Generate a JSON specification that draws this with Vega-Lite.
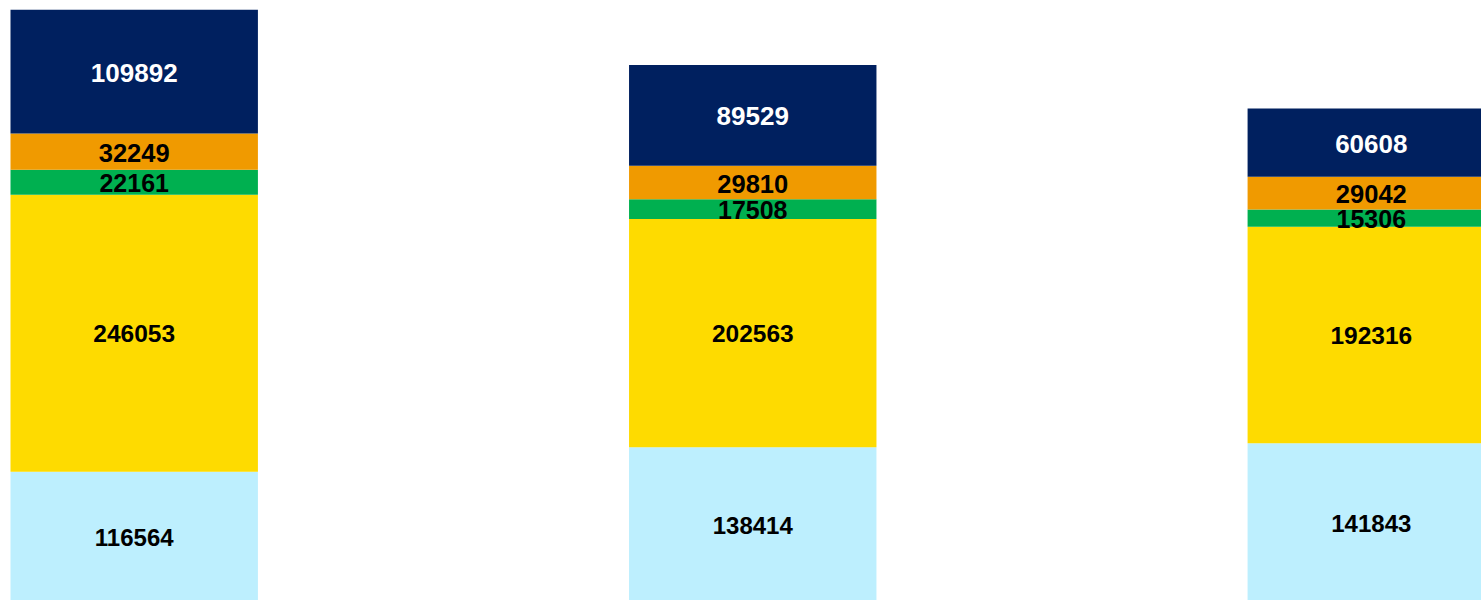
{
  "$schema": "https://vega.github.io/schema/vega-lite/v6.json",
  "width": 1481,
  "height": 600,
  "padding": 0,
  "autosize": {"type": "none"},
  "background": "white",
  "config": {"view": {"stroke": null}},
  "data": {
    "values": [
      {"group": "1", "segment": "E", "pos": 1, "value": 116564},
      {"group": "1", "segment": "D", "pos": 2, "value": 246053},
      {"group": "1", "segment": "C", "pos": 3, "value": 22161},
      {"group": "1", "segment": "B", "pos": 4, "value": 32249},
      {"group": "1", "segment": "A", "pos": 5, "value": 109892},
      {"group": "2", "segment": "E", "pos": 1, "value": 138414},
      {"group": "2", "segment": "D", "pos": 2, "value": 202563},
      {"group": "2", "segment": "C", "pos": 3, "value": 17508},
      {"group": "2", "segment": "B", "pos": 4, "value": 29810},
      {"group": "2", "segment": "A", "pos": 5, "value": 89529},
      {"group": "3", "segment": "E", "pos": 1, "value": 141843},
      {"group": "3", "segment": "D", "pos": 2, "value": 192316},
      {"group": "3", "segment": "C", "pos": 3, "value": 15306},
      {"group": "3", "segment": "B", "pos": 4, "value": 29042},
      {"group": "3", "segment": "A", "pos": 5, "value": 60608}
    ]
  },
  "transform": [
    {"stack": "value", "groupby": ["group"], "sort": [{"field": "pos", "order": "ascending"}], "as": ["v0", "v1"]},
    {"calculate": "(datum.v0 + datum.v1) / 2", "as": "vmid"}
  ],
  "encoding": {
    "x": {
      "field": "group",
      "type": "nominal",
      "axis": null,
      "scale": {"range": [10.5, 1495], "paddingInner": 0.6, "paddingOuter": 0}
    }
  },
  "layer": [
    {
      "mark": {"type": "bar"},
      "encoding": {
        "y": {"field": "v0", "type": "quantitative", "axis": null, "scale": {"domain": [0, 526919], "range": [603, 9.7], "nice": false, "zero": true}},
        "y2": {"field": "v1"},
        "color": {
          "field": "segment",
          "type": "nominal",
          "legend": null,
          "scale": {"domain": ["A", "B", "C", "D", "E"], "range": ["#00205F", "#F09A00", "#00B050", "#FEDB00", "#BDEFFE"]}
        }
      }
    },
    {
      "mark": {"type": "text", "font": "Liberation Sans", "fontWeight": "bold", "baseline": "middle", "align": "center", "dy": 2},
      "encoding": {
        "y": {"field": "vmid", "type": "quantitative", "axis": null, "scale": {"domain": [0, 526919], "range": [603, 9.7], "nice": false, "zero": true}},
        "text": {"field": "value", "type": "quantitative", "format": "d"},
        "size": {
          "field": "segment",
          "type": "nominal",
          "legend": null,
          "scale": {"domain": ["A", "B", "C", "D", "E"], "range": [26, 24, 24, 26, 26]}
        },
        "color": {
          "condition": {"test": "datum.segment === 'A'", "value": "white"},
          "value": "black"
        }
      }
    }
  ]
}
